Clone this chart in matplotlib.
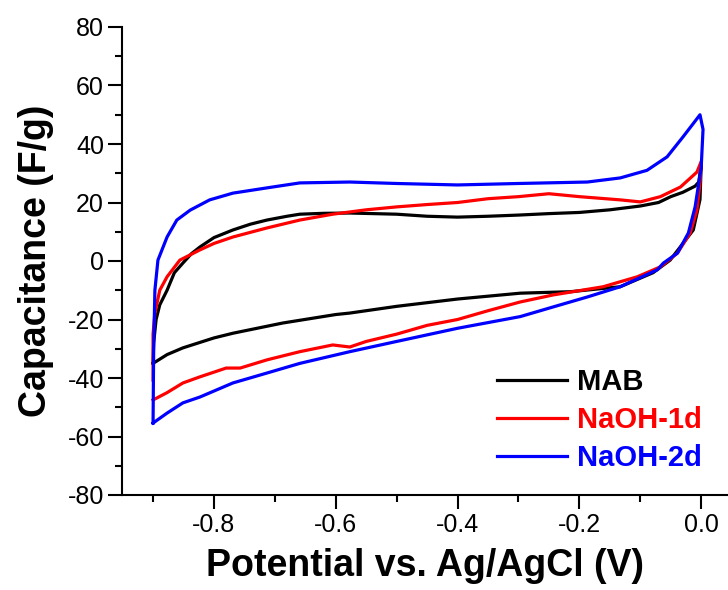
import numpy as np
import matplotlib as mpl
import matplotlib.pyplot as plt
from matplotlib.ticker import MultipleLocator

mpl.rcParams['font.family'] = ['Liberation Sans', 'DejaVu Sans']

# CV loops: forward sweep then reverse sweep
mab_v = [-0.900, -0.899, -0.895, -0.889, -0.877, -0.865, -0.851, -0.837, -0.823, -0.80,
         -0.769, -0.74, -0.713, -0.68, -0.659, -0.62, -0.577, -0.5, -0.45, -0.4,
         -0.35, -0.3, -0.25, -0.2, -0.15, -0.1, -0.07, -0.05, -0.03, -0.01, -0.004, 0.0,
         -0.002, -0.013, -0.03, -0.051, -0.079, -0.133, -0.215, -0.297, -0.4, -0.5,
         -0.577, -0.6, -0.687, -0.769, -0.8, -0.851, -0.877, -0.9]
mab_c = [-35, -28, -20, -15, -10, -4, -0.7, 2.5, 4.8, 8,
         10.6, 12.6, 14, 15.3, 16, 16.3, 16.4, 16, 15.3, 15,
         15.3, 15.7, 16.2, 16.6, 17.5, 18.8, 20, 22, 23.5, 25.6, 27, 33,
         21, 10.6, 6, 0.3, -4, -8.8, -10.5, -11, -13, -15.5,
         -17.8, -18.3, -21.2, -24.7, -26.3, -29.7, -32, -35]

naoh1_v = [-0.900, -0.900, -0.897, -0.889, -0.877, -0.856, -0.823, -0.8, -0.769, -0.713,
           -0.659, -0.605, -0.55, -0.5, -0.45, -0.4, -0.35, -0.3, -0.25, -0.2,
           -0.133, -0.1, -0.067, -0.034, -0.007, 0.0,
           -0.002, -0.007, -0.018, -0.039, -0.067, -0.105, -0.161, -0.243, -0.297, -0.35,
           -0.4, -0.45, -0.5, -0.55, -0.577, -0.605, -0.659, -0.713, -0.757, -0.78,
           -0.8, -0.823, -0.851, -0.877, -0.9]
naoh1_c = [-40.7, -25, -17.8, -10, -5.4, 0.3, 3.8, 6, 8.2, 11.3,
           14, 16, 17.5, 18.5, 19.3, 20, 21.3, 22, 23, 22,
           20.9, 20.2, 22, 25.3, 30.4, 34,
           26.7, 17.4, 9.6, 2.7, -2, -5.4, -8.8, -11.6, -14, -17,
           -20, -22, -25, -27.5, -29.4, -28.7, -31, -33.8, -36.6, -36.6,
           -38, -39.6, -41.7, -45, -47.5]

naoh2_v = [-0.9, -0.899, -0.897, -0.892, -0.877, -0.861, -0.839, -0.807, -0.769, -0.713,
           -0.659, -0.577, -0.5, -0.4, -0.3, -0.187, -0.133, -0.089, -0.056, -0.03,
           -0.013, -0.002,
           0.003, 0.0, -0.01, -0.021, -0.039, -0.062, -0.072, -0.133, -0.187, -0.243,
           -0.297, -0.4, -0.5, -0.577, -0.659, -0.713, -0.769, -0.823, -0.851, -0.877, -0.9]
naoh2_c = [-55.4, -30, -10, 0.3, 8.2, 14, 17.4, 20.9, 23.2, 25,
           26.7, 27, 26.5, 26, 26.5, 27, 28.4, 31, 35.6, 42.4,
           47, 50,
           45, 32, 18.5, 9.6, 2.7, -0.7, -3, -8.8, -12.3, -15.7,
           -19, -23, -27.5, -31, -35, -38.3, -41.7, -46.5, -48.5, -52, -55.4]

names = ['MAB', 'NaOH-1d', 'NaOH-2d']
colors = ['black', 'red', 'blue']

fig = plt.figure(figsize=(7.28, 5.90), dpi=100)
ax = fig.add_axes([122/728, 95/590, 606/728, 468/590])

for v, c, name, col in zip([mab_v, naoh1_v, naoh2_v], [mab_c, naoh1_c, naoh2_c], names, colors):
    ax.plot(v, c, color=col, lw=2.3, label=name)

ax.set_xlim(-0.951, 0.044)
ax.set_ylim(-80, 80)
ax.xaxis.set_minor_locator(MultipleLocator(0.1))
ax.yaxis.set_minor_locator(MultipleLocator(10))
ax.set_xticks([-0.8, -0.6, -0.4, -0.2, 0.0])
ax.set_xticklabels(['-0.8', '-0.6', '-0.4', '-0.2', '0.0'])
ax.set_yticks(np.arange(-80, 81, 20))
ax.set_yticklabels([str(t) for t in np.arange(-80, 81, 20)])

for s in ['top', 'right']:
    ax.spines[s].set_visible(False)
for s in ['left', 'bottom']:
    ax.spines[s].set_linewidth(1.5)
ax.tick_params(which='major', direction='out', length=10, width=1.5, labelsize=18, pad=3)
ax.tick_params(which='minor', direction='out', length=5, width=1.5)

ax.set_xlabel('Potential vs. Ag/AgCl (V)', fontsize=27, fontweight='bold', labelpad=8)
ax.set_ylabel('Capacitance (F/g)', fontsize=27, fontweight='bold', labelpad=10)

leg = ax.legend(loc='upper left', bbox_to_anchor=(497/728, 1 - 368/590),
                bbox_transform=fig.transFigure, frameon=False, borderpad=0,
                borderaxespad=0, handlelength=2.4, handletextpad=0.35,
                labelspacing=0.35, prop={'size': 21, 'weight': 'bold'})
for txt, col in zip(leg.get_texts(), colors):
    txt.set_color(col)

plt.savefig('out.png', dpi=100)
